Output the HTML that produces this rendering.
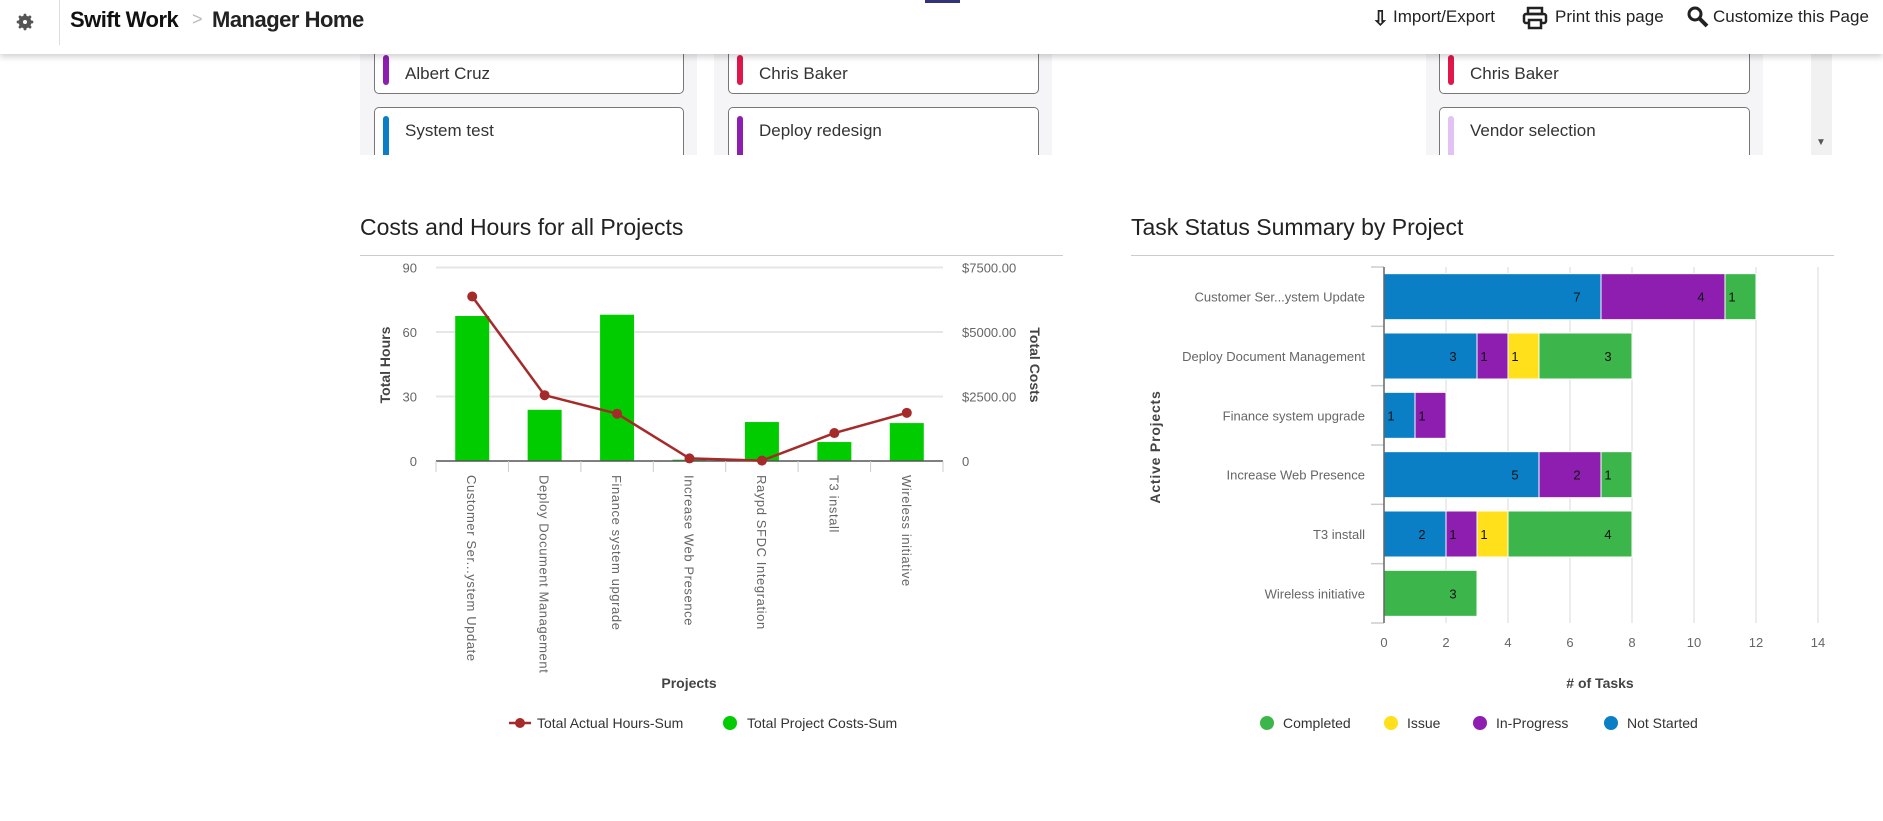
<!DOCTYPE html>
<html><head><meta charset="utf-8">
<style>
body{margin:0;width:1883px;height:821px;overflow:hidden;background:#fff;font-family:"Liberation Sans",sans-serif;position:relative}
.hdr{position:absolute;left:0;top:0;width:1883px;height:54px;background:#fff;box-shadow:0 3px 6px rgba(0,0,0,0.18);z-index:5}
.abs{position:absolute}
.panel{position:absolute;top:54px;height:101px;background:#f5f5f7;overflow:hidden}
.card{position:absolute;background:#fff;border:1px solid #777;border-radius:5px;height:46px}
.stripe{position:absolute;left:8px;width:6px;border-radius:3px}
.ctext{position:absolute;left:30px;font-size:17px;color:#333}
.title{position:absolute;font-size:23px;color:#222}
.rule{position:absolute;height:1px;background:#ccc}
</style></head><body>
<div class="hdr">
  <svg class="abs" style="left:14px;top:11px" width="22" height="22" viewBox="0 0 24 24"><path fill="#555" d="M12 8a4 4 0 1 0 0 8 4 4 0 0 0 0-8zm9 5.2v-2.4l-2.4-.6a7 7 0 0 0-.7-1.7l1.3-2.1-1.7-1.7-2.1 1.3a7 7 0 0 0-1.7-.7L13.2 3h-2.4l-.6 2.3a7 7 0 0 0-1.7.7L6.4 4.7 4.7 6.4 6 8.5a7 7 0 0 0-.7 1.7L3 10.8v2.4l2.3.6c.2.6.4 1.2.7 1.7l-1.3 2.1 1.7 1.7 2.1-1.3c.5.3 1.1.5 1.7.7l.6 2.3h2.4l.6-2.3c.6-.2 1.2-.4 1.7-.7l2.1 1.3 1.7-1.7-1.3-2.1c.3-.5.5-1.1.7-1.7z"/><circle cx="12" cy="12" r="2.2" fill="#fff"/></svg>
  <div class="abs" style="left:59px;top:0;width:1px;height:45px;background:#ddd"></div>
  <div class="abs" style="left:70px;top:7px;font-size:22px;font-weight:bold;color:#111;letter-spacing:-0.5px">Swift Work</div>
  <div class="abs" style="left:192px;top:9px;font-size:18px;color:#bbb">&gt;</div>
  <div class="abs" style="left:212px;top:7px;font-size:22px;font-weight:bold;color:#222;letter-spacing:-0.5px">Manager Home</div>
  <div class="abs" style="left:925px;top:0;width:35px;height:3px;background:#33337a"></div>
  <div class="abs" style="left:1372px;top:6px;font-size:20px;font-weight:bold;color:#222">⇩</div>
  <div class="abs" style="left:1393px;top:7px;font-size:17px;color:#222">Import/Export</div>
  <svg class="abs" style="left:1522px;top:6px" width="26" height="24" viewBox="0 0 26 24"><rect x="6" y="2" width="14" height="6" fill="none" stroke="#222" stroke-width="2.5"/><rect x="2" y="8" width="22" height="9" rx="2" fill="none" stroke="#222" stroke-width="2.5"/><rect x="7" y="14" width="12" height="8" fill="#fff" stroke="#222" stroke-width="2.5"/></svg>
  <div class="abs" style="left:1555px;top:7px;font-size:17px;color:#222">Print this page</div>
  <svg class="abs" style="left:1686px;top:5px" width="24" height="24" viewBox="0 0 24 24"><circle cx="9" cy="9" r="6" fill="none" stroke="#222" stroke-width="3"/><line x1="13" y1="13" x2="21" y2="21" stroke="#222" stroke-width="4"/></svg>
  <div class="abs" style="left:1713px;top:7px;font-size:17px;color:#222">Customize this Page</div>
</div>

<div class="panel" style="left:360px;width:337px">
  <div class="card" style="left:14px;top:-8px;width:308px"><div class="stripe" style="top:8px;height:30px;background:#8e1eb0"></div><div class="ctext" style="top:17px">Albert Cruz</div></div>
  <div class="card" style="left:14px;top:53px;width:308px;height:60px"><div class="stripe" style="top:8px;height:60px;background:#0a7fc5"></div><div class="ctext" style="top:13px">System test</div></div>
</div>
<div class="panel" style="left:714px;width:338px">
  <div class="card" style="left:14px;top:-8px;width:309px"><div class="stripe" style="top:8px;height:30px;background:#e0174a"></div><div class="ctext" style="top:17px">Chris Baker</div></div>
  <div class="card" style="left:14px;top:53px;width:309px;height:60px"><div class="stripe" style="top:8px;height:60px;background:#8e1eb0"></div><div class="ctext" style="top:13px">Deploy redesign</div></div>
</div>
<div class="panel" style="left:1426px;width:337px">
  <div class="card" style="left:13px;top:-8px;width:309px"><div class="stripe" style="top:8px;height:30px;background:#e0174a"></div><div class="ctext" style="top:17px">Chris Baker</div></div>
  <div class="card" style="left:13px;top:53px;width:309px;height:60px"><div class="stripe" style="top:8px;height:60px;background:#e2c2f2"></div><div class="ctext" style="top:13px">Vendor selection</div></div>
</div>
<div class="abs" style="left:1811px;top:54px;width:21px;height:101px;background:#f1f1f1"><div class="abs" style="left:5px;top:83px;font-size:10px;color:#555">▼</div></div>

<div class="title" style="left:360px;top:214px">Costs and Hours for all Projects</div>
<div class="rule" style="left:360px;top:255px;width:703px"></div>
<div class="title" style="left:1131px;top:214px">Task Status Summary by Project</div>
<div class="rule" style="left:1131px;top:255px;width:703px"></div>

<svg class="abs" style="left:0;top:0" width="1883" height="821" id="charts">
<g id="left" font-family="Liberation Sans, sans-serif"></g>
<g id="right" font-family="Liberation Sans, sans-serif"></g>
</svg>

<script>
const projects = ["Customer Ser...ystem Update","Deploy Document Management","Finance system upgrade","Increase Web Presence","Raypd SFDC Integration","T3 install","Wireless initiative"];
const costs = [5620,1985,5670,50,1510,735,1470];
const hours = [76.5,30.6,22,1.2,0.2,13,22.4];
const hourTicks = [0,30,60,90];
const costTicks = ["0","$2500.00","$5000.00","$7500.00"];
const costTickVals = [0,2500,5000,7500];

const taskProjects = ["Customer Ser...ystem Update","Deploy Document Management","Finance system upgrade","Increase Web Presence","T3 install","Wireless initiative"];
const notStarted = [7,3,1,5,2,0];
const inProgress = [4,1,1,2,1,0];
const issue = [0,1,0,0,1,0];
const completed = [1,3,0,1,4,3];
const taskTicks = [0,2,4,6,8,10,12,14];

const NS="http://www.w3.org/2000/svg";
function mk(parent,tag,attrs,text){const e=document.createElementNS(NS,tag);for(const k in attrs)e.setAttribute(k,attrs[k]);if(text!==undefined)e.textContent=text;parent.appendChild(e);return e;}

// LEFT CHART
(function(){
const g=document.getElementById('left');
const x0=436,x1=943,yTop=267.5,yBot=461;
const band=(x1-x0)/projects.length;
const yH=v=>yBot-(v/90)*(yBot-yTop);
const yC=v=>yBot-(v/7500)*(yBot-yTop);
const xc=i=>x0+band*(i+0.5);
hourTicks.forEach(t=>{
  if(t>0){const l=mk(g,'line',{x1:x0,x2:x1,y1:yH(t),y2:yH(t),stroke:'#e6e6e6','stroke-width':2});
  
  }
  const tx=mk(g,'text',{x:417,y:yH(t)+5,'text-anchor':'end','font-size':13,fill:'#666'},String(t));
  
  
});
costTicks.forEach((t,i)=>{
  const tx=mk(g,'text',{x:962,y:yC(costTickVals[i])+5,'font-size':13,fill:'#666'},t);
  
  
});
costs.forEach((v,i)=>{
  const r=mk(g,'rect',{x:xc(i)-17,y:yC(v),width:34,height:yBot-yC(v),fill:'#00cc00'});
  
  
});
mk(g,'line',{x1:x0,x2:x1,y1:yBot,y2:yBot,stroke:'#555','stroke-width':1.5});
for(let i=0;i<=projects.length;i++){mk(g,'line',{x1:x0+band*i,x2:x0+band*i,y1:yBot,y2:yBot+11,stroke:'#ccc','stroke-width':1});}
const pts=hours.map((v,i)=>xc(i)+','+yH(v)).join(' ');
const pl=mk(g,'polyline',{points:pts,fill:'none',stroke:'#a52a2a','stroke-width':2.5});


hours.forEach((v,i)=>{
  const c=mk(g,'circle',{cx:xc(i),cy:yH(v),r:5,fill:'#a52a2a'});
  
  
});
projects.forEach((p,i)=>{
  const t=mk(g,'text',{x:0,y:0,transform:`translate(${xc(i)-5},475) rotate(90)`,'font-size':13,fill:'#666','letter-spacing':'0.6'},p);
  
  
});
const a=mk(g,'text',{transform:'translate(390,365) rotate(-90)','text-anchor':'middle','font-size':14,'font-weight':'bold',fill:'#444'},'Total Hours');


const b=mk(g,'text',{transform:'translate(1030,365) rotate(90)','text-anchor':'middle','font-size':14,'font-weight':'bold',fill:'#444'},'Total Costs');


const xt=mk(g,'text',{x:689,y:688,'text-anchor':'middle','font-size':14,'font-weight':'bold',fill:'#444'},'Projects');


mk(g,'line',{x1:509,x2:531,y1:723,y2:723,stroke:'#a52a2a','stroke-width':2.5});
mk(g,'circle',{cx:520,cy:723,r:5,fill:'#a52a2a'});
const l1=mk(g,'text',{x:537,y:728,'font-size':14,fill:'#333'},'Total Actual Hours-Sum');


mk(g,'circle',{cx:730,cy:723,r:7,fill:'#00cc00'});
const l2=mk(g,'text',{x:747,y:728,'font-size':14,fill:'#333'},'Total Project Costs-Sum');


})();

// RIGHT CHART
(function(){
const g=document.getElementById('right');
const x0=1384,unit=31,yTop=267,yBot=623;
const band=(yBot-yTop)/taskProjects.length;
const X=v=>x0+v*unit;
taskTicks.forEach(t=>{
  if(t>0){const l=mk(g,'line',{x1:X(t),x2:X(t),y1:yTop,y2:yBot,stroke:'#e6e6e6','stroke-width':1.5});
  
  }
  const tx=mk(g,'text',{x:X(t),y:647,'text-anchor':'middle','font-size':13,fill:'#666'},String(t));
  
  
});
for(let i=0;i<=taskProjects.length;i++){mk(g,'line',{x1:1371,x2:x0,y1:yTop+band*i,y2:yTop+band*i,stroke:'#ccc','stroke-width':1.5});}
const series=[["not-started",notStarted,'#0a7fc5'],["in-progress",inProgress,'#8e1eb0'],["issue",issue,'#ffe01a'],["completed",completed,'#3cb54a']];
taskProjects.forEach((p,i)=>{
  const yc=yTop+band*(i+0.5);
  let acc=0;
  series.forEach(([nm,arr,col])=>{
    const v=arr[i]; if(!v) return;
    const r=mk(g,'rect',{x:X(acc),y:yc-23,width:v*unit,height:46,fill:col,stroke:'#fff','stroke-width':1});
    
    
    acc+=v;
    mk(g,'text',{x:X(acc)-24,y:yc+5,'text-anchor':'middle','font-size':13,fill:'#111'},String(v));
  });
  const t=mk(g,'text',{x:1365,y:yc+5,'text-anchor':'end','font-size':13,fill:'#666'},p);
  
  
});
mk(g,'line',{x1:x0,x2:x0,y1:yTop,y2:yBot,stroke:'#666','stroke-width':1.5});
const a=mk(g,'text',{transform:'translate(1160,447) rotate(-90)','text-anchor':'middle','font-size':14,'font-weight':'bold',fill:'#444','letter-spacing':'0.8'},'Active Projects');


const xt=mk(g,'text',{x:1600,y:688,'text-anchor':'middle','font-size':14,'font-weight':'bold',fill:'#444'},'# of Tasks');


const leg=[["Completed",'#3cb54a',1267],["Issue",'#ffe01a',1391],["In-Progress",'#8e1eb0',1480],["Not Started",'#0a7fc5',1611]];
leg.forEach(([n,c,x])=>{
  mk(g,'circle',{cx:x,cy:723,r:7,fill:c});
  const t=mk(g,'text',{x:x+16,y:728,'font-size':14,fill:'#333'},n);
  
  
});
})();
</script>
</body></html>
